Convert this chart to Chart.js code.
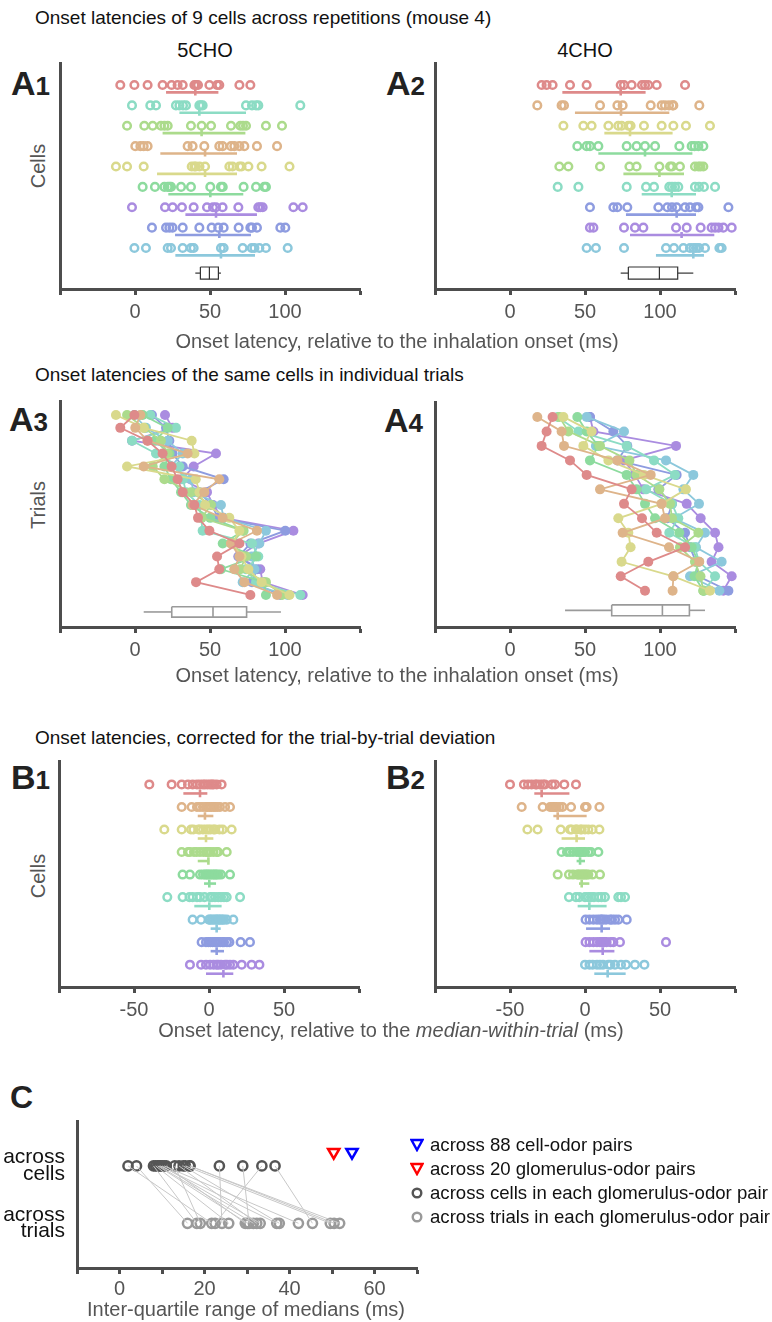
<!DOCTYPE html>
<html lang="en">
<head>
<meta charset="UTF-8">
<title>Onset latencies</title>
<script src="https://cdn.jsdelivr.net/npm/chart.js"></script>
<style>
  body { margin: 0; background: #fff; font-family: "Liberation Sans", Arial, sans-serif; }
  #page { position: relative; width: 772px; height: 1322px; overflow: hidden; }
  canvas { position: absolute; }
  .txt { position: absolute; white-space: nowrap; }
  .sec { font-size: 19px; color: #111; transform: translateY(-50%); }
  .odor { font-size: 20px; color: #111; transform: translate(-50%, -50%); }
  .lab { font-weight: bold; color: #222; font-size: 34px; line-height: 34px; }
  .lab span { font-size: 26px; }
  .axt { font-size: 20px; color: #555; transform: translate(-50%, -50%); }
  .yt { font-size: 20px; color: #555; transform: translate(-50%, -50%) rotate(-90deg); }
  .leg { font-size: 18.6px; color: #111; transform: translateY(-50%); left: 430px; }
  .sym { position: absolute; }
</style>
</head>
<body>
<div id="page">
  <div class="txt sec" style="left:35px; top:18px;">Onset latencies of 9 cells across repetitions (mouse 4)</div>
  <div class="txt odor" style="left:205px; top:50px;">5CHO</div>
  <div class="txt odor" style="left:585px; top:50px;">4CHO</div>
  <div class="txt lab" style="left:11px; top:66px;">A<span>1</span></div>
  <div class="txt lab" style="left:386px; top:66px;">A<span>2</span></div>
  <div class="txt yt" style="left:38px; top:166px;">Cells</div>
  <canvas id="a1"></canvas>
  <canvas id="a2"></canvas>
  <div class="txt axt" style="left:397px; top:341px;">Onset latency, relative to the inhalation onset (ms)</div>

  <div class="txt sec" style="left:35px; top:375px;">Onset latencies of the same cells in individual trials</div>
  <div class="txt lab" style="left:9px; top:402px;">A<span>3</span></div>
  <div class="txt lab" style="left:384px; top:403px;">A<span>4</span></div>
  <div class="txt yt" style="left:38px; top:505px;">Trials</div>
  <canvas id="a3"></canvas>
  <canvas id="a4"></canvas>
  <div class="txt axt" style="left:397px; top:675px;">Onset latency, relative to the inhalation onset (ms)</div>

  <div class="txt sec" style="left:35px; top:738px;">Onset latencies, corrected for the trial-by-trial deviation</div>
  <div class="txt lab" style="left:11px; top:760px;">B<span>1</span></div>
  <div class="txt lab" style="left:386px; top:760px;">B<span>2</span></div>
  <div class="txt yt" style="left:38px; top:876px;">Cells</div>
  <canvas id="b1"></canvas>
  <canvas id="b2"></canvas>
  <div class="txt axt" style="left:391px; top:1030px;">Onset latency, relative to the <i>median-within-trial</i> (ms)</div>

  <div class="txt lab" style="left:10px; top:1080px; font-size:32px;">C</div>
  <canvas id="c"></canvas>
  <div class="txt axt" style="left:246px; top:1309px;">Inter-quartile range of medians (ms)</div>

  <svg class="sym" style="left:410px; top:1138px;" width="14" height="14"><polygon points="1.5,2 12.5,2 7,12" fill="none" stroke="#0000ff" stroke-width="2.4"/></svg>
  <div class="txt leg" style="top:1145px;">across 88 cell-odor pairs</div>
  <svg class="sym" style="left:410px; top:1162px;" width="14" height="14"><polygon points="1.5,2 12.5,2 7,12" fill="none" stroke="#ff0000" stroke-width="2.4"/></svg>
  <div class="txt leg" style="top:1169px;">across 20 glomerulus-odor pairs</div>
  <svg class="sym" style="left:410px; top:1186px;" width="14" height="14"><circle cx="7" cy="7" r="4.3" fill="none" stroke="#555" stroke-width="2.4"/></svg>
  <div class="txt leg" style="top:1193px;">across cells in each glomerulus-odor pair</div>
  <svg class="sym" style="left:410px; top:1210px;" width="14" height="14"><circle cx="7" cy="7" r="4.3" fill="none" stroke="#999" stroke-width="2.4"/></svg>
  <div class="txt leg" style="top:1217px;">across trials in each glomerulus-odor pair</div>
</div>

<script>
// ---- cell colours (hue order) ----
const cellNames = ['red', 'tan', 'yellow', 'lgreen', 'green', 'teal', 'lblue', 'blue', 'purple'];
const cellColors = ['#de8a8a', '#deb48a', '#d9d98c', '#acdb8c', '#8ddb9e', '#8cdcc4', '#8cc8dc', '#8e9ce0', '#aa8ce0'];

// ---- 5CHO onset latencies, per cell, trial 1..15 (ms) ----
const cho5Red    = [-0.4, -9.8, 8.4, 18.4, 24.4, 28.4, 31.8, 39.6, 42, 49.6, 69.6, 54.7, 56.2, 40.7, 76.9];
const cho5Tan    = [3.6, 0.2, 8.4, 35.1, 5.8, 56.2, 46.2, 38.4, 58.4, 81.3, 64, 69.6, 66.2, 72.9, 94.7];
const cho5Yellow = [-12.7, 5.8, 37.8, 39.6, -5.3, 40.5, 43, 46.7, 62.9, 69.6, 65, 71, 75.6, 84.4, 103];
const cho5Lgreen = [-5.3, 6.2, 17.3, 21.8, 11.8, 19.6, 37.3, 50.7, 44.4, 72, 64, 74, 70.2, 87.3, 98];
const cho5Green  = [5.1, 21.8, 13.3, 23, 19.6, 24, 30.7, 37.3, 50.2, 72.4, 58.5, 80.7, 57.3, 86.2, 87.3];
const cho5Teal   = [10.2, 27.3, -2, 14, 29.6, 32, 34, 42.9, 44, 45.1, 78, 82.2, 74, 80.7, 110.2];
const cho5Lblue  = [-0.4, 7.3, 21.8, 31.8, 24, 37.3, 39.1, 57.3, 59.1, 87.3, 82.9, 77.8, 79.6, 71.8, 101.8];
const cho5Blue   = [11.3, 20.7, 22.9, 25, 31.8, 59.1, 42.9, 51.1, 55.5, 100.2, 76.9, 69.1, 81.3, 78, 96.9];
const cho5Purple = [20, 25.1, -2, 54, 39.1, 31.3, 48, 52, 58.4, 105.6, 82.2, 68.9, 83.5, 85.1, 111.8];

// ---- 4CHO onset latencies, per cell, trial 1..13 (ms) ----
const cho4Red    = [28.4, 24.4, 21.1, 40, 51.1, 81.1, 76, 88, 97.8, 116.7, 92.2, 73.8, 90];
const cho4Tan    = [18.2, 34.4, 36, 71.6, 93.8, 60, 101.1, 103.3, 75.1, 106, 126.2, 108.9, 108.4];
const cho4Yellow = [35.6, 54.4, 48.9, 65.6, 89.3, 117.3, 101.1, 72.2, 78.9, 80.4, 74.4, 108.9, 133.3];
const cho4Lgreen = [32.9, 38.9, 60, 79.6, 84.4, 99.6, 106.7, 108, 125.6, 113.3, 123.3, 127, 128.9];
const cho4Green  = [44.9, 51.1, 58.9, 53.3, 77.8, 84.4, 90, 96.7, 112.9, 121.1, 125.6, 123, 128.9];
const cho4Teal   = [31.8, 45.6, 77.8, 96, 110, 90.7, 108, 112.2, 106.2, 123.3, 126, 136.7, 129.3];
const cho4Lblue  = [51.1, 76, 57.3, 104, 122.2, 115.6, 126, 109.3, 130, 124, 141.1, 120, 139.6];
const cho4Blue   = [53.3, 68.9, 78.2, 71.6, 111.1, 98.9, 108, 104.9, 116.7, 120, 124, 125.6, 145.6];
const cho4Purple = [53.3, 55.6, 110.7, 76, 83.3, 88.9, 117.8, 127.1, 136.7, 139, 134.4, 147.8, 142.2];

// ---- row order, medians and IQR of each row (A1, A2) ----
const a1Order = ['red', 'teal', 'lgreen', 'tan', 'yellow', 'green', 'purple', 'blue', 'lblue'];
const a1Median = [40.2, 42.9, 44.4, 46.7, 46.7, 50.2, 54, 56.2, 57.3];
const a1Q1 = [20.7, 29.6, 18.4, 16.9, 14.7, 22.2, 33.6, 26.7, 26.9];
const a1Q3 = [55.6, 74, 73.6, 68, 68, 72.2, 81.3, 77.3, 80];
const a1Box = [40.2, 43.6, 49.6, 55.6, 57.3];   // whisker lo, q1, median, q3, whisker hi

const a2Order = ['red', 'tan', 'yellow', 'green', 'lgreen', 'teal', 'blue', 'purple', 'lblue'];
const a2Median = [73.8, 74, 80, 90, 99.6, 107.8, 111.1, 114.4, 122.2];
const a2Q1 = [34.9, 43.3, 62.9, 58.9, 75.6, 87.8, 77.3, 80, 97.3];
const a2Q3 = [90.4, 106.2, 108.4, 121.6, 116, 124, 124, 136.2, 129.3];
const a2Box = [73.8, 78.9, 99.6, 111.8, 122.2];

const a3Box = [5.8, 24.5, 52, 74.4, 97.3];
const a4Box = [36.7, 67.8, 101.6, 119.6, 130];

// ---- corrected latencies (B1: 5CHO, B2: 4CHO) ----
const b1Red    = [-39.8, -24.9, -18.2, -14, -10.9, -8, -6, -4, -2.7, -1, 0.7, 2, 3, 5.1, 8.4];
const b1Tan    = [-18.2, -11.6, -8, -6, -4, -2, -1, 0.5, 1.5, 2.9, 4, 5.5, 7.3, 10.7, 14];
const b1Yellow = [-29.8, -18.2, -12, -10.4, -7, -6, -4, -2, -0.4, 1, 3, 4, 7, 9.1, 15.1];
const b1Lgreen = [-18.2, -14, -12.7, -10, -8.2, -6, -3.8, -2, -1, -0.4, 1, 3, 5.1, 6, 11.8];
const b1Green  = [-17.6, -12.7, -6, -4, -2.5, -1.6, -0.5, 0.5, 1.8, 3, 4, 5, 6.2, 8, 14];
const b1Teal   = [-27.8, -17.6, -13, -10.9, -8, -6, -3, 0.7, 2, 4, 6.2, 8, 10, 11.8, 20.7];
const b1Lblue  = [-10.9, -5.3, 0, 0.7, 2, 3, 4.5, 5, 6.2, 7, 8, 9, 10, 11.8, 16.2];
const b1Blue   = [-4.9, -2, -0.4, 1, 2.5, 4, 5, 6, 7.5, 9.1, 10, 12, 13.6, 21.1, 27.3];
const b1Purple = [-12.7, -5.3, -2, 0.7, 3, 5, 6.2, 8, 10.7, 12, 14, 16.2, 21.8, 28.4, 33.6];
const b1Order = ['red', 'tan', 'yellow', 'lgreen', 'green', 'teal', 'lblue', 'blue', 'purple'];
const b1Median = [-6, -2.7, -2, -0.4, 0.2, 0.2, 5.1, 5.1, 9.6];
const b1Q1 = [-17.1, -7.5, -7.5, -7.5, -3.3, -9.8, 1.1, 1.1, -2];
const b1Q3 = [-1.1, 2.9, 2.9, 0.2, 4.7, 8.4, 7.8, 10, 16.2];

const b2Red    = [-50, -40.7, -38, -35.6, -33, -32.2, -30, -28, -26.7, -22, -20, -13.8, -6];
const b2Tan    = [-42.2, -28.2, -23.3, -22, -21.1, -20, -18.9, -17, -15, -9.3, 0, 1.1, 9.6];
const b2Yellow = [-38.4, -31.6, -16.2, -10, -8.9, -6, -5.6, -3, -2.2, 0, 2.2, 5, 9.6];
const b2Green  = [-15.6, -12, -10, -8, -5.6, -4, -3, -2.2, -1, 0, 2.2, 4, 8.9];
const b2Lgreen = [-18.2, -10.7, -8, -5, -4.4, -3, -2, -1.1, 0, 1, 2.2, 5, 10];
const b2Teal   = [-10.7, -6, -3.8, 0, 2.2, 4, 6, 8.9, 11, 13.3, 22.2, 24, 26.7];
const b2Blue   = [0.4, 3, 5.6, 8, 10, 11.1, 12, 14, 16.7, 18, 20, 22.2, 27.8];
const b2Purple = [0.4, 3, 5.6, 8, 10, 11, 12, 13, 14.4, 17, 18.9, 23.3, 54];
const b2Lblue  = [0, 3, 5.1, 8, 10, 12, 15.6, 17, 20, 24, 27.3, 33.3, 39.6];
const b2Order = ['red', 'tan', 'yellow', 'green', 'lgreen', 'teal', 'blue', 'purple', 'lblue'];
const b2Median = [-28.9, -18.2, -5.6, -3.3, -2.2, 2.9, 11.1, 11.8, 15.1];
const b2Q1 = [-33.8, -21.1, -15.6, -5.6, -4, -4.9, 0.7, 2.9, 6.2];
const b2Q3 = [-10.4, 1.1, 0, 0, 2.9, 14.4, 16.7, 19.6, 27.1];

// ---- C: IQR of medians, paired per glomerulus-odor pair ----
const iqrAcrossCells  = [2, 4, 8, 8.5, 9, 9.3, 9.6, 10, 10.5, 11, 13, 14, 15, 15.5, 16.5, 16.6, 23.5, 29, 33.5, 36.6];
const iqrAcrossTrials = [21.7, 16, 18.2, 25.7, 30.1, 31.5, 37, 33.1, 42.1, 29.6, 19, 32.3, 37.6, 49.6, 51.8, 50.5, 24.1, 30.5, 22.5, 45.4];
const iqrCellOdor88 = 54.7;
const iqrGlomOdor20 = 50.4;

// lookup tables built from the arrays above
const colorOf = {};
cellNames.forEach((n, i) => { colorOf[n] = cellColors[i]; });
const cho5 = { red: cho5Red, tan: cho5Tan, yellow: cho5Yellow, lgreen: cho5Lgreen, green: cho5Green, teal: cho5Teal, lblue: cho5Lblue, blue: cho5Blue, purple: cho5Purple };
const cho4 = { red: cho4Red, tan: cho4Tan, yellow: cho4Yellow, lgreen: cho4Lgreen, green: cho4Green, teal: cho4Teal, lblue: cho4Lblue, blue: cho4Blue, purple: cho4Purple };
const b1 = { red: b1Red, tan: b1Tan, yellow: b1Yellow, lgreen: b1Lgreen, green: b1Green, teal: b1Teal, lblue: b1Lblue, blue: b1Blue, purple: b1Purple };
const b2 = { red: b2Red, tan: b2Tan, yellow: b2Yellow, lgreen: b2Lgreen, green: b2Green, teal: b2Teal, lblue: b2Lblue, blue: b2Blue, purple: b2Purple };

const AXIS = '#4d4d4d';
const TICKTXT = '#555555';
Chart.defaults.font.family = '"Liberation Sans", Arial, sans-serif';

function seg(pts, col, w) {
    return { data: pts.map(p => ({ x: p[0], y: p[1] })), showLine: true, pointRadius: 0,
             borderColor: col, borderWidth: w, clip: false };
}

function rowSets(order, data, med, q1, q3, off, tick) {
    const sets = [];
    order.forEach((name, i) => {
        const y = i + 1, col = colorOf[name];
        sets.push({ data: data[name].map(v => ({ x: v, y: y })), pointRadius: 3.8, borderWidth: 2.5,
                    borderColor: col, backgroundColor: 'rgba(0,0,0,0)', clip: false });
        sets.push(seg([[q1[i], y + off], [q3[i], y + off]], col, 2.6));
        sets.push(seg([[med[i], y + off - tick], [med[i], y + off + tick]], col, 2.6));
    });
    return sets;
}

function trialSets(data) {
    return cellNames.map(name => ({
        data: data[name].map((v, i) => ({ x: v, y: i + 1 })), showLine: true,
        borderColor: colorOf[name], backgroundColor: colorOf[name], borderWidth: 1.8,
        pointRadius: 5, pointBorderWidth: 0, clip: false
    }));
}

function boxSets(b, y, h, col, w) {
    const [lo, q1, m, q3, hi] = b;
    const t = y - h / 2, bt = y + h / 2;
    return [seg([[q1, t], [q3, t], [q3, bt], [q1, bt], [q1, t]], col, w),
            seg([[lo, y], [q1, y]], col, w), seg([[q3, y], [hi, y]], col, w),
            seg([[m, t], [m, bt]], col, w)];
}

// area = chart-area box in page pixels
function panel(id, area, xr, step, labels, yr, datasets) {
    const padL = 8, padR = 12, padT = 8, xh = 42;
    const c = document.getElementById(id);
    c.style.left = (area.l - padL) + 'px';
    c.style.top = (area.t - padT) + 'px';
    c.width = area.r - area.l + padL + padR;
    c.height = area.b - area.t + padT + xh;
    return new Chart(c, {
        type: 'scatter',
        data: { datasets: datasets },
        options: {
            responsive: false, animation: false, events: [],
            layout: { padding: { left: padL, right: padR, top: padT, bottom: 0 } },
            plugins: { legend: { display: false }, tooltip: { enabled: false } },
            scales: {
                x: {
                    type: 'linear', min: xr[0], max: xr[1],
                    afterFit: s => { s.height = xh; },
                    border: { color: AXIS, width: 3 },
                    grid: { drawOnChartArea: false, tickLength: 6, tickWidth: 3, tickColor: AXIS },
                    ticks: { stepSize: step, color: TICKTXT, font: { size: 20 }, padding: 5, maxRotation: 0, autoSkip: false,
                             callback: v => labels.includes(v) ? String(v) : '' }
                },
                y: {
                    type: 'linear', reverse: true, min: yr[0], max: yr[1],
                    afterFit: s => { s.width = 0; },
                    ticks: { display: false }, grid: { display: false },
                    border: { color: AXIS, width: 3 }
                }
            }
        }
    });
}

// A1 / A2
panel('a1', { l: 60, r: 360, t: 63, b: 289 }, [-50, 150], 50, [0, 50, 100], [-0.08, 11.01],
    rowSets(a1Order, cho5, a1Median, a1Q1, a1Q3, 0.36, 0.15).concat(boxSets(a1Box, 10.23, 0.6, '#333', 1.2)));
panel('a2', { l: 435, r: 735, t: 63, b: 289 }, [-50, 150], 50, [0, 50, 100], [-0.08, 11.01],
    rowSets(a2Order, cho4, a2Median, a2Q1, a2Q3, 0.36, 0.15).concat(boxSets(a2Box, 10.23, 0.6, '#333', 1.2)));

// A3 / A4
panel('a3', { l: 60, r: 360, t: 401, b: 627 }, [-50, 150], 50, [0, 50, 100], [-0.09, 17.49],
    boxSets(a3Box, 16.32, 0.8, '#9a9a9a', 1.6).concat(trialSets(cho5)));
panel('a4', { l: 435, r: 735, t: 402, b: 627 }, [-50, 150], 50, [0, 50, 100], [-0.03, 15.5],
    boxSets(a4Box, 14.35, 0.75, '#9a9a9a', 1.6).concat(trialSets(cho4)));

// B1 / B2
panel('b1', { l: 59, r: 359, t: 761, b: 987 }, [-100, 100], 50, [-50, 0, 50], [-0.04, 9.99],
    rowSets(b1Order, b1, b1Median, b1Q1, b1Q3, 0.4, 0.17));
panel('b2', { l: 435, r: 735, t: 761, b: 987 }, [-100, 100], 50, [-50, 0, 50], [-0.04, 9.99],
    rowSets(b2Order, b2, b2Median, b2Q1, b2Q3, 0.4, 0.17));

// C
(function () {
    const area = { l: 77, r: 417, t: 1101, b: 1268 };
    const padT = 8, padR = 12, xh = 42;
    const c = document.getElementById('c');
    c.style.left = '0px';
    c.style.top = (area.t - padT) + 'px';
    c.width = area.r + padR;
    c.height = area.b - area.t + padT + xh;
    const sets = iqrAcrossCells.map((v, i) => seg([[v, 2], [iqrAcrossTrials[i], 1]], '#c8c8c8', 1));
    sets.push({ data: iqrAcrossTrials.map(v => ({ x: v, y: 1 })), pointRadius: 4.6, borderWidth: 2.5,
                borderColor: '#9a9a9a', backgroundColor: 'rgba(0,0,0,0)', clip: false });
    sets.push({ data: iqrAcrossCells.map(v => ({ x: v, y: 2 })), pointRadius: 4.6, borderWidth: 2.5,
                borderColor: '#555', backgroundColor: 'rgba(0,0,0,0)', clip: false });
    sets.push({ data: [{ x: iqrGlomOdor20, y: 2.24 }], pointStyle: 'triangle', rotation: 180, pointRadius: 6.5,
                borderWidth: 2.5, borderColor: '#ff0000', backgroundColor: 'rgba(0,0,0,0)', clip: false });
    sets.push({ data: [{ x: iqrCellOdor88, y: 2.24 }], pointStyle: 'triangle', rotation: 180, pointRadius: 6.5,
                borderWidth: 2.5, borderColor: '#0000ff', backgroundColor: 'rgba(0,0,0,0)', clip: false });
    new Chart(c, {
        type: 'scatter',
        data: { datasets: sets },
        options: {
            responsive: false, animation: false, events: [],
            layout: { padding: { left: 0, right: padR, top: padT, bottom: 0 } },
            plugins: { legend: { display: false }, tooltip: { enabled: false } },
            scales: {
                x: {
                    type: 'linear', min: -10, max: 70,
                    afterFit: s => { s.height = xh; },
                    border: { color: AXIS, width: 3 },
                    grid: { drawOnChartArea: false, tickLength: 6, tickWidth: 3, tickColor: AXIS },
                    ticks: { stepSize: 10, color: TICKTXT, font: { size: 20 }, padding: 3, maxRotation: 0, autoSkip: false,
                             callback: v => [0, 20, 40, 60].includes(v) ? String(v) : '' }
                },
                y: {
                    type: 'linear', min: 0.22, max: 2.77,
                    afterFit: s => { s.width = area.l; },
                    afterBuildTicks: s => { s.ticks = [{ value: 1 }, { value: 2 }]; },
                    grid: { display: false, drawTicks: false },
                    border: { color: AXIS, width: 3 },
                    ticks: { color: '#111', font: { size: 21, lineHeight: 0.8 }, padding: 12,
                             callback: v => v === 2 ? ['across', 'cells'] : ['across', 'trials'] }
                }
            }
        }
    });
})();
</script>
</body>
</html>
